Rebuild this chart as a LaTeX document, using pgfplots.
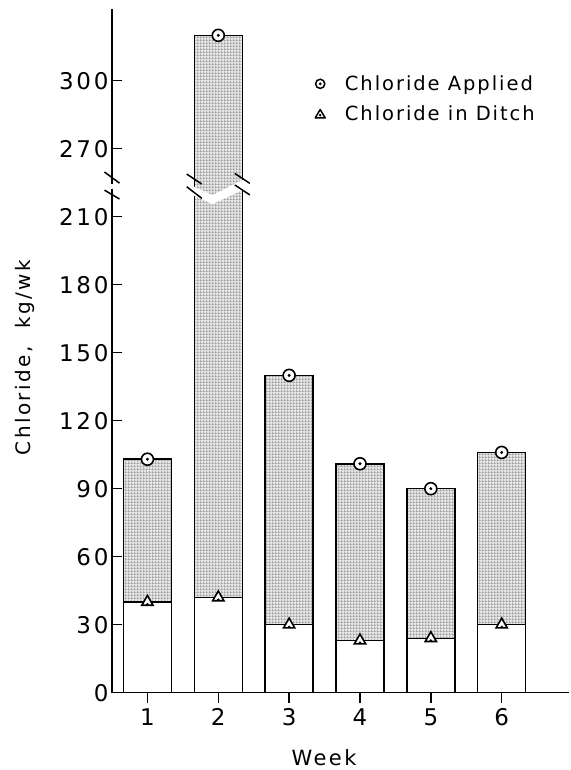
\documentclass[border=0pt]{standalone}
\usepackage{pgfplots}
\pgfplotsset{compat=1.18}
\usepackage{pgfplotstable}
\usepackage{fontspec}
\setmainfont{DejaVu Sans}[LetterSpace=10]
\newfontfamily\tickfnt{DejaVu Sans}[LetterSpace=12]
\newfontfamily\labfnt{DejaVu Sans}[LetterSpace=12]
\usetikzlibrary{patterns.meta}
\tikzdeclarepattern{
  name=stipple,
  type=uncolored,
  bounding box={(0,0) and (2.6pt,2.6pt)},
  tile size={(2.6pt,2.6pt)},
  code={\pgfpathrectangle{\pgfpoint{0pt}{0pt}}{\pgfpoint{2.6pt}{0.6pt}}\pgfpathrectangle{\pgfpoint{0pt}{0pt}}{\pgfpoint{0.6pt}{2.6pt}}\pgfusepath{fill}}
}
\pgfplotstableread{
week applied ditch
1 103 40
2 320 42
3 140 30
4 101 23
5 90 24
6 106 30
}\chl
\begin{document}
\begin{tikzpicture}
\useasboundingbox (0,0) rectangle (570pt,770pt);
\begin{axis}[
  at={(112pt,77.3pt)}, anchor=south west,
  scale only axis, width=457pt, height=683.4pt,
  xmin=0.5, xmax=6.95, ymin=0, ymax=301.5,
  axis x line=bottom, axis y line=left,
  axis line style={-, line width=1.6pt},
  every tick/.style={black, line width=1.4pt},
  xtick align=outside, ytick align=inside,
  major tick length=10pt,
  xtick={1,...,6},
  ytick={0,30,60,90,120,150,180,210,240,270},
  yticklabels={0,30,60,90,120,150,180,210,270,300},
  /pgf/number format/assume math mode=true,
  tick label style={font=\tickfnt\fontsize{23}{25}\selectfont},
  xticklabel style={yshift=-2pt},
  xlabel={Week},
  ylabel={Chloride,\ \ kg/wk},
  xlabel style={font=\labfnt\fontsize{21}{24}\selectfont, at={(axis description cs:0.464,-0.0956)}, anchor=center},
  ylabel style={font=\labfnt\fontsize{20}{24}\selectfont, at={(axis description cs:-0.19,0.49)}, anchor=center},
  legend style={at={(axis description cs:0.436,0.909)}, anchor=north west, draw=none, fill=none,
    font=\fontsize{19.5}{22}\selectfont, row sep=10pt},
  legend cell align=left,
  clip=false,
]
\addplot[ybar, bar width=48pt, bar shift=0pt, draw=black, line width=1.5pt, fill=black!10,
  postaction={pattern=stipple, pattern color=black!40}, forget plot]
  table[x=week, y expr={\thisrow{applied}>240 ? \thisrow{applied}-30 : \thisrow{applied}}]{\chl};
\addplot[ybar, bar width=48pt, bar shift=0pt, draw=black, line width=1.5pt, fill=white, forget plot]
  table[x=week, y=ditch]{\chl};
% axis break
\fill[white] (axis cs:0.44,222.0) rectangle (axis cs:0.56,224.6);
\draw[line width=1.5pt] (axis cs:0.394,229.7) -- (axis cs:0.606,224.8);
\draw[line width=1.5pt] (axis cs:0.394,221.7) -- (axis cs:0.606,217.8);
% bar 2 break
\fill[white] (axis cs:1.64,223.5) -- (axis cs:1.92,219.5) -- (axis cs:2.36,226.5) -- (axis cs:2.36,222.0) -- (axis cs:1.92,215.6) -- (axis cs:1.64,219.5) -- cycle;
\draw[line width=1.5pt] (axis cs:1.555,228.8) -- (axis cs:1.767,224.4);
\draw[line width=1.5pt] (axis cs:1.555,223.2) -- (axis cs:1.767,218.1);
\draw[line width=1.5pt] (axis cs:2.233,229.1) -- (axis cs:2.445,224.7);
\draw[line width=1.5pt] (axis cs:2.233,224.0) -- (axis cs:2.445,219.6);
% markers
\addplot[only marks, mark=*, mark size=6pt, mark options={fill=white, draw=black, line width=1.6pt}, forget plot]
  table[x=week, y expr={\thisrow{applied}>240 ? \thisrow{applied}-30 : \thisrow{applied}}]{\chl};
\addplot[only marks, mark=*, mark size=1.3pt, black, forget plot]
  table[x=week, y expr={\thisrow{applied}>240 ? \thisrow{applied}-30 : \thisrow{applied}}]{\chl};
\addplot[only marks, mark=triangle*, mark size=6.5pt, mark options={fill=white, draw=black, line width=1.6pt}, forget plot]
  table[x=week, y=ditch]{\chl};
\addplot[only marks, mark=*, mark size=1.1pt, black, forget plot]
  table[x=week, y expr={\thisrow{ditch}-1}]{\chl};
\addlegendimage{legend image code/.code={
  \draw[black, line width=1.5pt, fill=white] (0.3cm,0pt) circle (4.6pt);
  \fill[black] (0.3cm,0pt) circle (1.2pt);}}
\addlegendentry{\hspace{17pt}Chloride Applied}
\addlegendimage{legend image code/.code={
  \draw[black, line width=1.5pt, fill=white, line join=round] (0.3cm-5pt,-3.8pt) -- (0.3cm+5pt,-3.8pt) -- (0.3cm,4.6pt) -- cycle;
  \fill[black] (0.3cm,-1pt) circle (1.1pt);}}
\addlegendentry{\hspace{17pt}Chloride in Ditch}
\end{axis}
\end{tikzpicture}
\end{document}
